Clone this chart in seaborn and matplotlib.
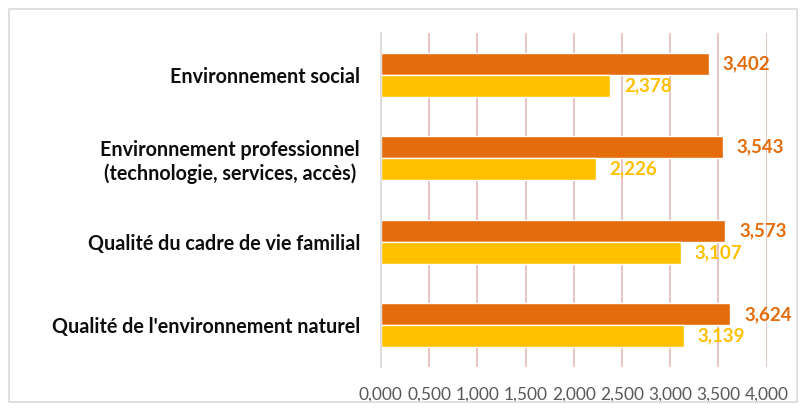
import numpy as np
import pandas as pd
import matplotlib.pyplot as plt
import seaborn as sns
from matplotlib.patches import Rectangle

# Data
categories = [
    "Environnement social",
    "Environnement professionnel\n(technologie, services, accès)",
    "Qualité du cadre de vie familial",
    "Qualité de l'environnement naturel",
]
series_names = ["Série 1", "Série 2"]
values_orange = [3.402, 3.543, 3.573, 3.624]
values_yellow = [2.378, 2.226, 3.107, 3.139]
ticks = [0, 0.5, 1, 1.5, 2, 2.5, 3, 3.5, 4]

colors = ["#E46C0A", "#FFC000"]

df = pd.DataFrame({
    "categorie": categories * 2,
    "serie": [series_names[0]] * 4 + [series_names[1]] * 4,
    "valeur": values_orange + values_yellow,
})

sns.set_style("white")
plt.rcParams['font.family'] = ['Lato', 'DejaVu Sans']

fig = plt.figure(figsize=(8.07, 4.11), dpi=100)
ax = fig.add_axes([0.472, 0.107, 0.478, 0.813])

sns.barplot(data=df, y="categorie", x="valeur", hue="serie",
            hue_order=series_names, palette=colors, orient="h",
            width=0.524, gap=0, saturation=1, legend=False, ax=ax)

ax.set_xlim(0, 4)
ax.set_ylim(3.5, -0.5)
ax.set_xticks(ticks)
ax.set_xticklabels([f"{t:.3f}".replace(".", ",") for t in ticks],
                   color="#595959", fontsize=12.5)
ax.tick_params(axis="x", length=0, pad=14)
ax.tick_params(axis="y", length=0, pad=15)
for lab in ax.get_yticklabels():
    lab.set_fontweight("bold")
    lab.set_fontsize(14.2)
    lab.set_color("#0d0d0d")
    lab.set_multialignment("center")

ax.set_xlabel("")
ax.set_ylabel("")
ax.xaxis.grid(True, color="#E6B9B8", linewidth=1.2)
ax.set_axisbelow(True)
for s in ["top", "right", "bottom"]:
    ax.spines[s].set_visible(False)
ax.spines["left"].set_color("#D9D9D9")
ax.spines["left"].set_linewidth(1.2)

for container, col in zip(ax.containers, colors):
    ax.bar_label(container, labels=[f"{v:.3f}".replace(".", ",") for v in container.datavalues],
                 padding=10, color=col, fontweight="bold", fontsize=13.5)

fig.patches.append(Rectangle((9 / 807, 9 / 411), 788 / 807, 393 / 411,
                             transform=fig.transFigure, fill=False,
                             edgecolor="#D9D9D9", linewidth=1.2))

fig.savefig("out.png", dpi=100)
